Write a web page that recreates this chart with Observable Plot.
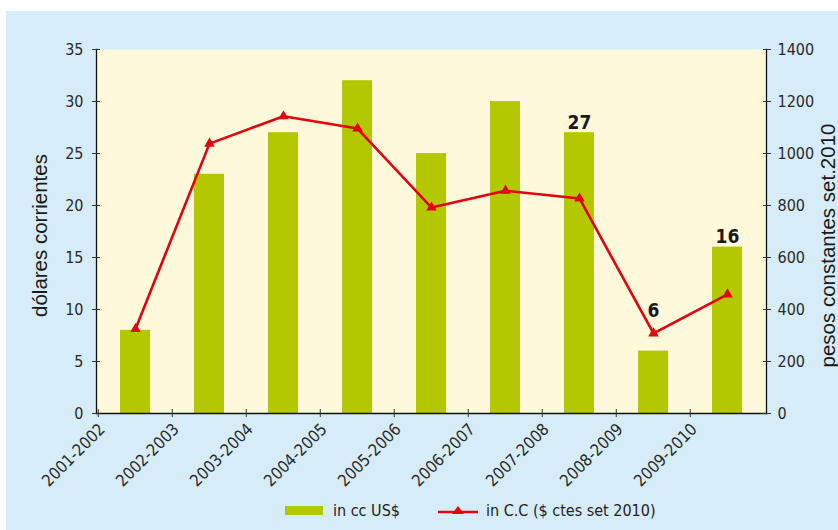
<!DOCTYPE html>
<html>
<head>
<meta charset="utf-8">
<script src="https://cdn.jsdelivr.net/npm/d3@7"></script>
<script src="https://cdn.jsdelivr.net/npm/@observablehq/plot@0.6"></script>
<style>
  html, body { margin: 0; padding: 0; background: #ffffff; }
  body { width: 838px; height: 530px; position: relative; overflow: hidden; }
  #panel { position: absolute; left: 6px; top: 11px; width: 832px; height: 519px; background: #D6ECF9; }
  #chart { position: absolute; left: 0; top: 0; }
  #legend { position: absolute; left: 279px; top: 490px; display: flex; align-items: center;
    font-family: "Liberation Sans Narrow", "DejaVu Sans Condensed", "Liberation Sans", sans-serif;
    font-size: 16px; color: #222; }
  .item { display: flex; align-items: center; }
  .sw { width: 38px; height: 9px; background: #B3C800; margin-right: 10px; }
</style>
</head>
<body>
<div id="panel">
  <div id="chart"></div>
  <div id="legend">
    <div class="item"><div class="sw"></div><span>in cc US$</span></div>
    <div class="item" style="margin-left:38px"><svg width="40" height="14" style="margin-right:8px"><line x1="0" y1="8" x2="40" y2="8" stroke="#E4000F" stroke-width="2.5"/><path d="M20,2 L26,10 L14,10 Z" fill="#E4000F"/></svg><span>in C.C ($ ctes set 2010)</span></div>
  </div>
</div>
<script>
const categories = ["2001-2002","2002-2003","2003-2004","2004-2005","2005-2006","2006-2007","2007-2008","2008-2009","2009-2010"];
const usdValues = [8, 23, 27, 32, 25, 30, 27, 6, 16];
const pesosValues = [325, 1038, 1143, 1096, 792, 857, 827, 308, 458];
const leftTicks = [0, 5, 10, 15, 20, 25, 30, 35];
const rightMax = 1400;
const leftMax = 35;
const labeled = ["2007-2008", "2009-2010"];
const lowLabel = "2008-2009";
const leftTitle = "dólares corrientes";
const rightTitle = "pesos constantes set.2010";

const ratio = rightMax / leftMax;
const data = categories.map((c, i) => ({cat: c, usd: usdValues[i], pesos: pesosValues[i]}));

const W = 832, H = 480, mL = 90, mR = 72, mT = 38, mB = 78;
const step = (W - mL - mR) / categories.length;
const condensed = '"Liberation Sans Narrow", "DejaVu Sans Condensed", "Liberation Sans", sans-serif';
const titleFont = '"Liberation Sans", Arial, sans-serif';

const chart = Plot.plot({
  width: W, height: H,
  marginLeft: mL, marginRight: mR, marginTop: mT, marginBottom: mB,
  style: {background: "transparent", fontFamily: condensed, fontSize: "16px", color: "#2a2a2a", overflow: "visible"},
  x: {domain: categories, paddingInner: 0.6, paddingOuter: 0.3, axis: null},
  y: {domain: [0, leftMax], axis: null},
  marks: [
    Plot.frame({fill: "#FFF9DB", stroke: null}),
    Plot.barY(data, {x: "cat", y: "usd", fill: "#B3C800"}),
    Plot.line(data, {x: "cat", y: d => d.pesos / ratio, stroke: "#E4000F", strokeWidth: 2.6}),
    Plot.dot(data, {x: "cat", y: d => d.pesos / ratio, symbol: "triangle", fill: "#E4000F", r: 3.9}),
    Plot.text(data.filter(d => labeled.includes(d.cat)), {x: "cat", y: "usd", text: d => String(d.usd), lineAnchor: "bottom", dy: -4, fontSize: 19, fontWeight: "bold", fill: "#1a1a1a"}),
    Plot.text(data.filter(d => d.cat === lowLabel), {x: "cat", y: "usd", text: d => String(d.usd), lineAnchor: "bottom", dy: -34, fontSize: 19, fontWeight: "bold", fill: "#1a1a1a"}),
    Plot.frame({anchor: "left", stroke: "#111", strokeWidth: 1.3}),
    Plot.frame({anchor: "right", stroke: "#111", strokeWidth: 1.3}),
    Plot.frame({anchor: "bottom", stroke: "#111", strokeWidth: 1.3}),
    Plot.axisY({anchor: "left", ticks: leftTicks, tickSize: 8, dx: 4, tickPadding: 9, fontSize: 16, stroke: "#333", label: null}),
    Plot.axisY({anchor: "right", ticks: leftTicks, tickSize: 8, dx: -4, tickPadding: 7, fontSize: 16, stroke: "#333", label: null, tickFormat: d => String(d * ratio)}),
    Plot.axisX({anchor: "bottom", tickSize: 8, dy: -4, dx: -step / 2, tickFormat: () => "", stroke: "#333", label: null}),
    Plot.axisX({anchor: "bottom", tickSize: 0, dx: -step / 2 + 4, tickRotate: -45, tickPadding: 13, fontSize: 16.5, label: null}),
    Plot.text([leftTitle], {frameAnchor: "left", textAnchor: "middle", rotate: -90, dx: -56, dy: 4, fontSize: 20.5, fontFamily: titleFont, fill: "#1a1a1a"}),
    Plot.text([rightTitle], {frameAnchor: "right", textAnchor: "middle", rotate: -90, dx: 62, dy: 14, fontSize: 20.5, fontFamily: titleFont, fill: "#1a1a1a"})
  ]
});
document.getElementById("chart").appendChild(chart);
</script>
</body>
</html>
